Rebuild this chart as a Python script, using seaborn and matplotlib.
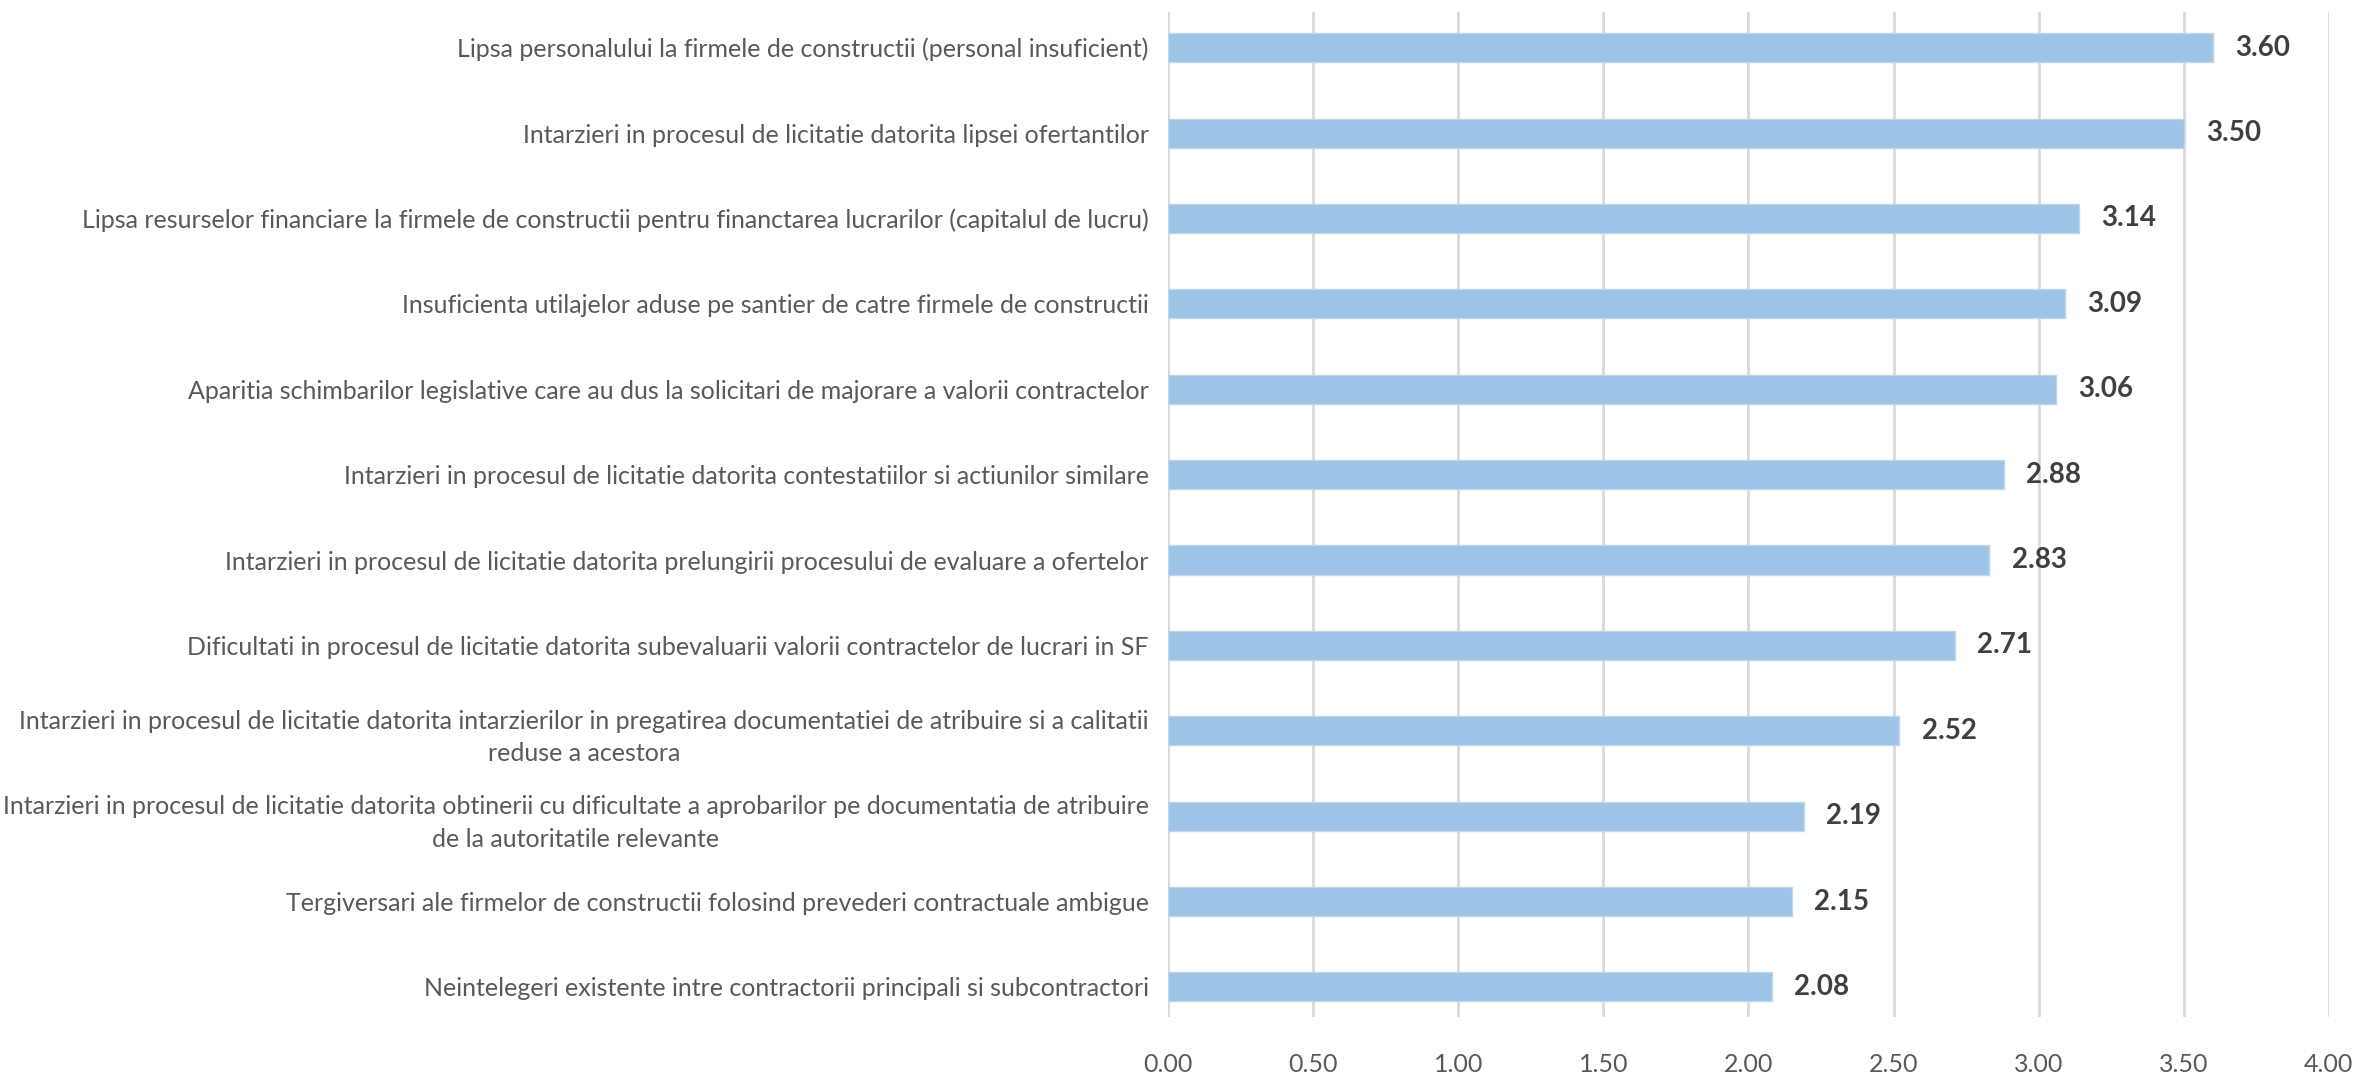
import matplotlib
matplotlib.use("Agg")
import matplotlib.pyplot as plt
import seaborn as sns
import pandas as pd

categories = [
    "Lipsa personalului la firmele de constructii (personal insuficient)",
    "Intarzieri in procesul de licitatie datorita lipsei ofertantilor",
    "Lipsa resurselor financiare la firmele de constructii pentru financtarea lucrarilor (capitalul de lucru)",
    "Insuficienta utilajelor aduse pe santier de catre firmele de constructii",
    "Aparitia schimbarilor legislative care au dus la solicitari de majorare a valorii contractelor",
    "Intarzieri in procesul de licitatie datorita contestatiilor si actiunilor similare",
    "Intarzieri in procesul de licitatie datorita prelungirii procesului de evaluare a ofertelor",
    "Dificultati in procesul de licitatie datorita subevaluarii valorii contractelor de lucrari in SF",
    "Intarzieri in procesul de licitatie datorita intarzierilor in pregatirea documentatiei de atribuire si a calitatii\nreduse a acestora",
    "Intarzieri in procesul de licitatie datorita obtinerii cu dificultate a aprobarilor pe documentatia de atribuire\nde la autoritatile relevante",
    "Tergiversari ale firmelor de constructii folosind prevederi contractuale ambigue",
    "Neintelegeri existente intre contractorii principali si subcontractori",
]
scores = [3.60, 3.50, 3.14, 3.09, 3.06, 2.88, 2.83, 2.71, 2.52, 2.19, 2.15, 2.08]
x_ticks = [0.0, 0.5, 1.0, 1.5, 2.0, 2.5, 3.0, 3.5, 4.0]

df = pd.DataFrame({"factor": categories, "score": scores})

sns.set_style("white")
plt.rcParams["font.family"] = ["Lato", "DejaVu Sans"]

fig = plt.figure(figsize=(23.74, 10.76), dpi=100)
ax = fig.add_axes([0.492, 0.055, 0.489, 0.934])

sns.barplot(data=df, x="score", y="factor", orient="h", color="#9DC3E6",
            width=0.34, edgecolor="#BDD7EE", linewidth=1, saturation=1, ax=ax)

ax.set_xlim(0, 4)
ax.set_ylim(11.35, -0.42)
ax.set_xticks(x_ticks)
ax.set_xticklabels([f"{t:.2f}" for t in x_ticks])
ax.grid(axis="x", color="#D9D9D9", linewidth=2)
ax.set_axisbelow(True)
for s in ax.spines.values():
    s.set_visible(False)
ax.set_xlabel("")
ax.set_ylabel("")
ax.tick_params(axis="both", length=0, labelsize=18, colors="#595959")
ax.tick_params(axis="x", pad=26)
ax.tick_params(axis="y", pad=14)
for lbl in ax.get_yticklabels():
    lbl.set_multialignment("center")
    lbl.set_linespacing(1.5)

for i, v in enumerate(scores):
    ax.annotate(f"{v:.2f}", (v, i), xytext=(16, 0), textcoords="offset points",
                va="center", ha="left", fontsize=20, fontweight="bold",
                color="#404040")

fig.savefig("out.png", dpi=100)
